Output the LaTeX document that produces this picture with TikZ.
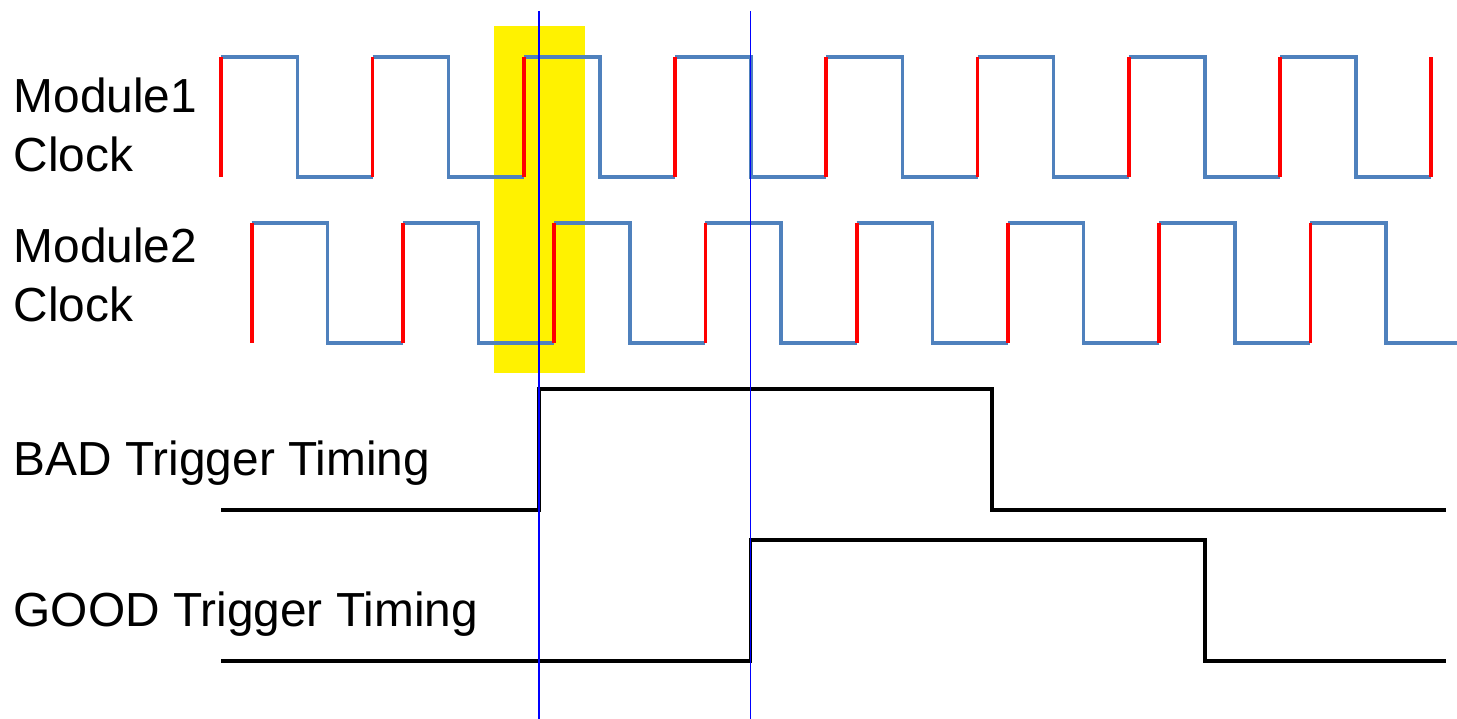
\documentclass[tikz,border=0pt]{standalone}
\usepackage{fontspec}
\setmainfont{Liberation Sans}
\definecolor{clkblue}{HTML}{4F81BD}

\begin{document}
\begin{tikzpicture}[x=0.01cm, y=-0.01cm,
  clk/.style={clkblue, line width=1pt},
  rise/.style={red, line width=1.05pt},
  trig/.style={black, line width=0.95pt},
  marker/.style={blue, line width=0.45pt},
  lbl/.style={anchor=base west, inner sep=0pt, align=left,
    font=\fontsize{13.6}{16.8}\selectfont}]
  % pixel units, y grows downwards; clock period 151.25
  \useasboundingbox (0,0) rectangle (1457,719);
  \fill[yellow] (494,26) rectangle (585,373);

  % Module1 clock
  \foreach \k in {0,...,7} {
    \pgfmathsetmacro{\rx}{221.3+151.25*\k}
    \draw[clk] (\rx,57) -- ({\rx+76},57) -- ({\rx+76},177) -- ({\rx+151.25},177);
  }
  \foreach \k in {0,...,8}
    { \draw[rise] ({221.3+151.25*\k},177) -- ({221.3+151.25*\k},57); }

  % Module2 clock
  \foreach \k in {0,...,7} {
    \pgfmathsetmacro{\rx}{251.7+151.25*\k}
    \pgfmathsetmacro{\ex}{min(\rx+151.25,1457)}
    \draw[clk] (\rx,223) -- ({\rx+75.6},223) -- ({\rx+75.6},343) -- (\ex,343);
    \draw[rise] (\rx,343) -- (\rx,223);
  }

  % triggers
  \draw[trig] (221,510) -- (539,510) -- (539,389) -- (992,389) -- (992,510) -- (1446,510);
  \draw[trig] (221,661) -- (750.7,661) -- (750.7,540) -- (1205,540) -- (1205,661) -- (1446,661);

  \draw[marker] (539,11) -- (539,719);
  \draw[marker] (750.7,11) -- (750.7,719);

  % multi-line labels: base is the last line
  \node[lbl] (clka) at (13,172) {Module1\\Clock};
  \node[lbl] (clkb) at (13,322) {Module2\\Clock};
  \node[lbl] (bad) at (13,476) {BAD Trigger Timing};
  \node[lbl] (good) at (13,627) {GOOD Trigger Timing};
\end{tikzpicture}
\end{document}
